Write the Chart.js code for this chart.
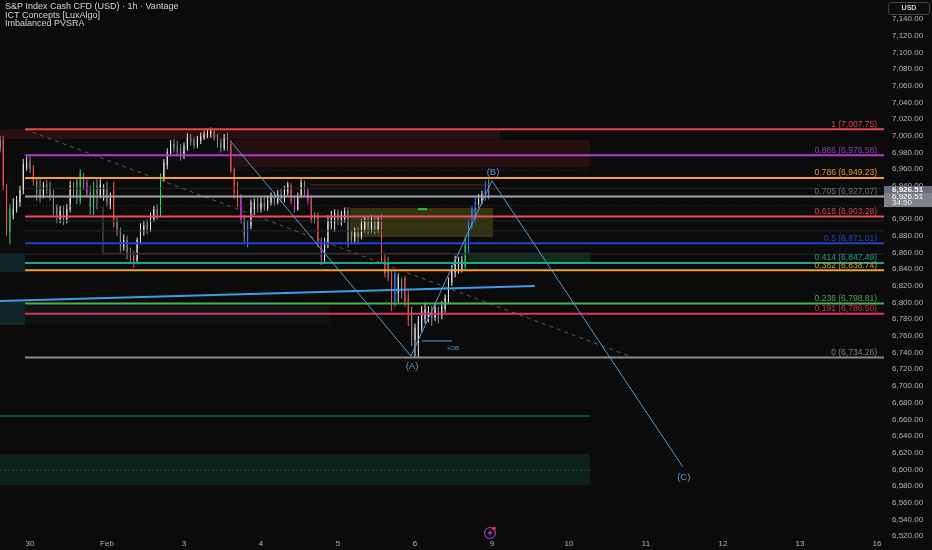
<!DOCTYPE html>
<html>
<head>
<meta charset="utf-8">
<script src="https://cdn.jsdelivr.net/npm/chart.js@4.4.1/dist/chart.umd.min.js"></script>
<style>
    html, body { margin: 0; padding: 0; background: #0b0b0b; }
    #wrap { position: relative; width: 932px; height: 550px; }
    canvas { display: block; }
</style>
</head>
<body>
<div id="wrap"><canvas id="chart" width="932" height="550"></canvas></div>
<script>
// --- hourly candles (bar index 0 = first bar of "30") ---
const firstBar = -9;
const opens = [6985, 6995, 6940, 6885, 6905, 6912, 6920, 6935, 6962,
    6970, 6962, 6946, 6938, 6930, 6942, 6938, 6930, 6915, 6900,
    6912, 6900, 6912, 6940, 6946, 6922, 6950, 6945, 6932, 6912,
    6940, 6928, 6930, 6938, 6918, 6940, 6898, 6886, 6866, 6875,
    6860, 6856, 6850, 6874, 6885, 6895, 6888, 6900, 6912, 6906,
    6948, 6965, 6978, 6990, 6988, 6985, 6975, 6985, 6998, 6995,
    6988, 6994, 6998, 7000, 7002, 7004, 6998, 6992, 6985, 6998,
    6990, 6960, 6935, 6928, 6900, 6868, 6892, 6912, 6920, 6912,
    6920, 6914, 6920, 6928, 6920, 6930, 6924, 6932, 6940, 6922,
    6912, 6928, 6942, 6935, 6925, 6898, 6905, 6872, 6855, 6870,
    6895, 6895, 6908, 6898, 6900, 6910, 6880, 6874, 6885, 6880,
    6888, 6898, 6888, 6898, 6888, 6900, 6852, 6848, 6835, 6800,
    6812, 6826, 6830, 6810, 6790, 6755, 6752, 6770, 6780, 6782,
    6790, 6782, 6790, 6784, 6792, 6802, 6824, 6836, 6838, 6840,
    6843, 6865, 6892, 6900, 6918, 6922, 6926, 6940];
const highs = [7000, 7000, 6942, 6918, 6925, 6928, 6940, 6972, 6975,
    6978, 6965, 6950, 6948, 6945, 6947, 6945, 6935, 6918, 6916,
    6916, 6918, 6946, 6945, 6950, 6960, 6955, 6948, 6940, 6945,
    6948, 6948, 6942, 6945, 6932, 6945, 6902, 6890, 6882, 6880,
    6866, 6862, 6878, 6895, 6898, 6900, 6908, 6916, 6918, 6955,
    6972, 6985, 6995, 6996, 6994, 6990, 6992, 7003, 7002, 6998,
    7000, 7004, 7006, 7008, 7010, 7008, 7002, 6996, 7002, 7004,
    6995, 6962, 6945, 6930, 6905, 6898, 6924, 6925, 6926, 6926,
    6928, 6928, 6932, 6933, 6935, 6936, 6940, 6945, 6943, 6928,
    6932, 6948, 6946, 6938, 6928, 6908, 6908, 6878, 6878, 6905,
    6910, 6912, 6912, 6910, 6914, 6914, 6886, 6890, 6890, 6900,
    6903, 6902, 6905, 6902, 6904, 6906, 6858, 6855, 6838, 6838,
    6835, 6830, 6832, 6815, 6795, 6775, 6784, 6796, 6800, 6796,
    6796, 6800, 6795, 6802, 6810, 6830, 6845, 6856, 6855, 6856,
    6878, 6900, 6916, 6926, 6930, 6934, 6946, 6948];
const lows = [6980, 6935, 6880, 6870, 6900, 6908, 6915, 6930, 6958,
    6955, 6940, 6922, 6920, 6925, 6930, 6922, 6905, 6895, 6895,
    6893, 6895, 6908, 6925, 6918, 6918, 6935, 6926, 6905, 6905,
    6912, 6925, 6922, 6915, 6912, 6890, 6880, 6860, 6862, 6852,
    6847, 6842, 6846, 6870, 6880, 6882, 6885, 6897, 6900, 6902,
    6945, 6960, 6975, 6980, 6975, 6970, 6972, 6982, 6988, 6984,
    6985, 6990, 6995, 6997, 6998, 6994, 6986, 6980, 6982, 6982,
    6955, 6925, 6915, 6895, 6872, 6866, 6888, 6905, 6908, 6908,
    6910, 6910, 6916, 6916, 6918, 6920, 6920, 6928, 6918, 6908,
    6910, 6925, 6928, 6918, 6895, 6895, 6866, 6845, 6848, 6865,
    6888, 6885, 6893, 6892, 6896, 6866, 6870, 6870, 6872, 6876,
    6884, 6882, 6884, 6882, 6884, 6848, 6830, 6826, 6790, 6795,
    6800, 6805, 6795, 6772, 6748, 6735, 6734, 6765, 6775, 6776,
    6772, 6778, 6775, 6780, 6788, 6798, 6820, 6830, 6835, 6836,
    6840, 6860, 6888, 6896, 6914, 6918, 6922, 6924];
const closes = [6995, 6940, 6887, 6912, 6912, 6922, 6935, 6966, 6968,
    6960, 6945, 6930, 6925, 6940, 6935, 6928, 6912, 6905, 6910,
    6898, 6912, 6940, 6932, 6925, 6955, 6940, 6930, 6915, 6938,
    6930, 6942, 6936, 6920, 6926, 6898, 6885, 6866, 6875, 6858,
    6852, 6848, 6875, 6888, 6892, 6888, 6902, 6912, 6905, 6950,
    6968, 6980, 6990, 6985, 6980, 6975, 6988, 6998, 6992, 6988,
    6996, 7000, 7002, 7004, 7006, 6998, 6990, 6985, 6997, 6988,
    6958, 6932, 6925, 6898, 6880, 6895, 6920, 6920, 6912, 6920,
    6914, 6922, 6928, 6920, 6930, 6924, 6935, 6942, 6922, 6912,
    6928, 6944, 6932, 6922, 6898, 6905, 6872, 6855, 6872, 6898,
    6902, 6908, 6898, 6906, 6910, 6872, 6875, 6885, 6878, 6895,
    6898, 6890, 6900, 6888, 6898, 6852, 6835, 6830, 6800, 6835,
    6830, 6810, 6800, 6780, 6755, 6770, 6778, 6790, 6792, 6790,
    6780, 6794, 6780, 6796, 6806, 6826, 6840, 6852, 6848, 6850,
    6872, 6895, 6912, 6920, 6924, 6930, 6940, 6926.51];
// PVSRA class per candle: w up, d down, r/g climax, m/b above average
const kinds = ('wrrgwwwww' + 'drddwddddw' + 'dwwddgdmdg' + 'dwwdwrddwd' + 'drwwwdwwdg' +
    'wwwdddwwdd' + 'wwwwwdddwd' + 'rrrmdbwwdw' + 'dwwdwdwwrm' + 'wwdmrgrmww' +
    'wwdwwddwdw' + 'wdwdwrrdrb' + 'wdrrdwwwww' + 'dwdwwwwwww' + 'gbbbwwbd').split('');

// --- time axis ---
const dayTicks = [0, 23, 46, 69, 92, 115, 138, 161, 184, 207, 230, 253];
const dayLabels = ['30', 'Feb', '3', '4', '5', '6', '9', '10', '11', '12', '13', '16'];

// --- price axis ---
const priceTicks = [7140, 7120, 7100, 7080, 7060, 7040, 7020, 7000, 6980, 6960, 6940, 6920, 6900,
    6880, 6860, 6840, 6820, 6800, 6780, 6760, 6740, 6720, 6700, 6680, 6660, 6640, 6620, 6600,
    6580, 6560, 6540, 6520];
const lastPrice = 6926.51;

// --- fibonacci retracement ---
const fibRatios = ['1', '0.886', '0.786', '0.705', '0.618', '0.5', '0.414', '0.382', '0.236', '0.191', '0'];
const fibPrices = [7007.75, 6976.58, 6949.23, 6927.07, 6903.28, 6871.01, 6847.49, 6838.74, 6798.81, 6786.50, 6734.26];
const fibStartBar = -1.5;
const fibColors = ['#e8474d', '#ae3ccc', '#f2a02c', '#a3a3a3', '#ec4f58', '#1f45c4', '#16a98b', '#f2a02c', '#4caf50', '#e2335e', '#8c8c8c'];
const fibTextColors = ['#d9464c', '#9b3ab8', '#e3972a', '#6f727b', '#d8464e', '#2a48b8', '#18a085', '#d99a22', '#47a64b', '#cc3058', '#7d7d7d'];

// --- ABC wave ---
const waveBars = [60, 113.8, 138, 195];
const wavePrices = [6993, 6736, 6946, 6603];
const waveNames = ['', '(A)', '(B)', '(C)'];

// --- other drawings ---
const trendBars = [-9, 150.8];
const trendPrices = [6802, 6820];
const diagBars = [-1.5, 180.1];
const diagPrices = [7007.75, 6734.26];
const levelPrices = [6664, 6599, 6941, 6937, 6898, 6886, 6858, 6916, 6959, 6754, 6912];
const levelFrom = [-9, -9, 83.6, -1.5, -1.5, -1.5, -1.5, -1.5, 60.6, 117, 115.9];
const levelTo = [167.3, 167.3, 137.4, 256, 256, 256, 256, 256, 167.3, 126, 118.6];
const levelStyle = [
    { c: '#10502f', w: 2, d: [] }, { c: '#17553b', w: 1, d: [2, 2] }, { c: '#6b2c2c', w: 1, d: [] },
    { c: '#262626', w: 1, d: [] }, { c: '#262626', w: 1, d: [] }, { c: '#2a2a2a', w: 1, d: [] },
    { c: '#2a2a2a', w: 1, d: [] }, { c: '#3a3a3a', w: 1, d: [1, 2] }, { c: '#4a2b2b', w: 1, d: [1, 2] },
    { c: '#5b9bd5', w: 1, d: [] }, { c: '#22c05a', w: 2, d: [] }
];
const boxBars = [21.8, 21.8, 167.3];
const boxPrices = [6914.6, 6859, 6859];

// zones: bars from/to, price top/bottom
const zoneFrom = [-9, 60.6, 95.6, 130.8, -9, -9, -9, -1.5];
const zoneTo = [140.4, 167.3, 138.3, 167.3, 167.3, -1.5, -1.5, 89.6];
const zoneTop = [7008, 6995, 6913.4, 6857, 6618.4, 6859.4, 6803, 6797];
const zoneBottom = [6996, 6962.5, 6878.6, 6848.5, 6581.3, 6836.6, 6773, 6775];
const zoneColors = ['rgba(110,30,30,0.30)', 'rgba(110,30,30,0.28)', 'rgba(120,120,25,0.38)', 'rgba(20,110,60,0.35)',
    'rgba(16,80,50,0.32)', 'rgba(25,80,80,0.40)', 'rgba(25,80,80,0.40)', 'rgba(25,80,80,0.14)'];

const FONT = "'Liberation Sans', Arial, sans-serif";
const X_MAX = 255.1;
const kindColor = { w: '#e6e6e6', d: '#8a8a8a', r: '#f05454', g: '#27d96a', m: '#d63fe3', b: '#2f80ff' };
const candleColors = kinds.map(k => kindColor[k]);
const fmt = v => v.toLocaleString('en-US', { minimumFractionDigits: 2, maximumFractionDigits: 2 });

function seg(xs, ys, color, width, dash, order) {
    return {
        type: 'line',
        data: xs.map((x, i) => ({ x: x, y: ys[i] })),
        borderColor: color, borderWidth: width, borderDash: dash || [],
        pointRadius: 0, tension: 0, fill: false, order: order
    };
}

const datasets = [];
// candles: wicks then bodies
datasets.push({
    type: 'bar', order: 5, grouped: false, barThickness: 1, maxBarThickness: 1,
    data: highs.map((h, i) => ({ x: firstBar + i, y: [lows[i], h] })),
    backgroundColor: candleColors, borderWidth: 0, inflateAmount: 0
});
datasets.push({
    type: 'bar', order: 4, grouped: false, barThickness: 1, maxBarThickness: 2.6, minBarLength: 1,
    data: opens.map((o, i) => ({ x: firstBar + i, y: [o, closes[i]] })),
    backgroundColor: candleColors, borderWidth: 0, inflateAmount: 0
});
levelPrices.forEach((p, i) => {
    const s = levelStyle[i];
    datasets.push(seg([levelFrom[i], levelTo[i]], [p, p], s.c, s.w, s.d, 3));
});
datasets.push(seg(boxBars, boxPrices, '#3a3a3a', 1, [], 3));
fibPrices.forEach((p, i) => {
    datasets.push(seg([fibStartBar, X_MAX], [p, p], fibColors[i], 2, [], 2));
});
datasets.push(seg(diagBars, diagPrices, '#5c5c5c', 1, [4, 4], 2));
datasets.push(seg(trendBars, trendPrices, '#3f9be8', 2, [], 1));
datasets.push(seg(waveBars, wavePrices, '#5b9bd5', 1, [], 1));

const overlay = {
    id: 'overlay',
    beforeDatasetsDraw(chart) {
        const { ctx, chartArea: a, scales: { x, y } } = chart;
        ctx.save();
        ctx.beginPath();
        ctx.rect(a.left, a.top, a.width, a.height);
        ctx.clip();
        zoneFrom.forEach((f, i) => {
            const x0 = x.getPixelForValue(f), x1 = x.getPixelForValue(zoneTo[i]);
            const y0 = y.getPixelForValue(zoneTop[i]), y1 = y.getPixelForValue(zoneBottom[i]);
            ctx.fillStyle = zoneColors[i];
            ctx.fillRect(x0, y0, x1 - x0, y1 - y0);
        });
        ctx.restore();
    },
    afterDatasetsDraw(chart) {
        const { ctx, chartArea: a, scales: { x, y } } = chart;
        ctx.save();
        // fib labels
        ctx.font = '8.5px ' + FONT;
        ctx.textAlign = 'right';
        ctx.textBaseline = 'middle';
        fibPrices.forEach((p, i) => {
            ctx.fillStyle = fibTextColors[i];
            ctx.fillText(fibRatios[i] + ' (' + fmt(p) + ')', a.right - 7, y.getPixelForValue(p) - 5);
        });
        // wave labels
        ctx.font = '9.5px ' + FONT;
        ctx.textAlign = 'center';
        ctx.fillStyle = '#5b9bd5';
        const offs = [0, 10, -8, 11];
        waveNames.forEach((n, i) => {
            if (!n) return;
            ctx.fillText(n, x.getPixelForValue(waveBars[i]) + 1, y.getPixelForValue(wavePrices[i]) + offs[i]);
        });
        // order block tag
        ctx.font = '6px ' + FONT;
        ctx.textAlign = 'left';
        ctx.fillText('+OB', x.getPixelForValue(levelTo[9]) - 5, y.getPixelForValue(levelPrices[9]) + 7);
        ctx.restore();
    },
    afterDraw(chart) {
        const { ctx, chartArea: a, scales: { y } } = chart;
        ctx.save();
        // price axis labels
        ctx.fillStyle = '#b2b5be';
        ctx.textAlign = 'left';
        ctx.textBaseline = 'middle';
        ctx.font = '8px ' + FONT;
        priceTicks.forEach(v => ctx.fillText(fmt(v), a.right + 8, y.getPixelForValue(v)));
        // legend
        ctx.fillStyle = '#d1d4dc';
        ctx.font = '9px ' + FONT;
        ctx.fillText('S&P Index Cash CFD (USD) · 1h · Vantage', 5, 7);
        ctx.fillText('ICT Concepts [LuxAlgo]', 5, 15.5);
        ctx.fillText('Imbalanced PVSRA', 5, 24);
        // currency button
        ctx.strokeStyle = '#434651';
        ctx.lineWidth = 1;
        ctx.beginPath();
        ctx.roundRect(888.5, 2.5, 41, 12, 3);
        ctx.stroke();
        ctx.fillStyle = '#d1d4dc';
        ctx.font = 'bold 7px ' + FONT;
        ctx.textAlign = 'center';
        ctx.fillText('USD', 909, 8.5);
        // last price tag
        const yp = y.getPixelForValue(lastPrice);
        ctx.fillStyle = '#80838c';
        ctx.fillRect(a.right, yp - 11, 48, 21);
        ctx.fillStyle = '#6a6d75';
        ctx.fillRect(a.right, yp - 11, 48, 7);
        ctx.fillStyle = '#ffffff';
        ctx.textAlign = 'left';
        ctx.font = 'bold 8px ' + FONT;
        ctx.fillText(fmt(lastPrice), a.right + 8, yp - 7.5);
        ctx.font = '8px ' + FONT;
        ctx.fillText(fmt(lastPrice), a.right + 8, yp - 0.5);
        ctx.fillStyle = '#eeeeee';
        ctx.fillText('34:50', a.right + 8, yp + 6);
        // alert icon
        ctx.strokeStyle = '#9b3fc9';
        ctx.lineWidth = 1.2;
        ctx.beginPath();
        ctx.arc(490, 533, 5.5, 0, Math.PI * 2);
        ctx.stroke();
        ctx.fillStyle = '#9b3fc9';
        ctx.beginPath();
        ctx.moveTo(491, 529); ctx.lineTo(487.5, 534); ctx.lineTo(490, 534);
        ctx.lineTo(489, 537); ctx.lineTo(492.5, 532); ctx.lineTo(490, 532);
        ctx.closePath();
        ctx.fill();
        ctx.fillStyle = '#f23645';
        ctx.beginPath();
        ctx.arc(494, 528.5, 1.8, 0, Math.PI * 2);
        ctx.fill();
        ctx.restore();
    }
};

new Chart(document.getElementById('chart'), {
    type: 'bar',
    data: { datasets: datasets },
    plugins: [overlay],
    options: {
        responsive: false,
        animation: false,
        events: [],
        layout: { padding: 0 },
        plugins: { legend: { display: false }, tooltip: { enabled: false } },
        scales: {
            x: {
                type: 'linear',
                min: -8.96,
                max: X_MAX,
                offset: false,
                grid: { display: false, drawTicks: false },
                border: { display: false },
                afterFit(scale) { scale.height = 13; },
                afterBuildTicks(scale) { scale.ticks = dayTicks.map(v => ({ value: v })); },
                ticks: {
                    autoSkip: false, maxRotation: 0, padding: 2,
                    color: '#b2b5be', font: { size: 8, family: FONT },
                    callback: (v, i) => dayLabels[i]
                }
            },
            y: {
                type: 'linear',
                position: 'right',
                min: 6518.9,
                max: 7162.8,
                grid: { display: false, drawTicks: false },
                border: { display: false },
                afterFit(scale) { scale.width = 48; },
                ticks: { display: false }
            }
        }
    }
});
</script>
</body>
</html>
